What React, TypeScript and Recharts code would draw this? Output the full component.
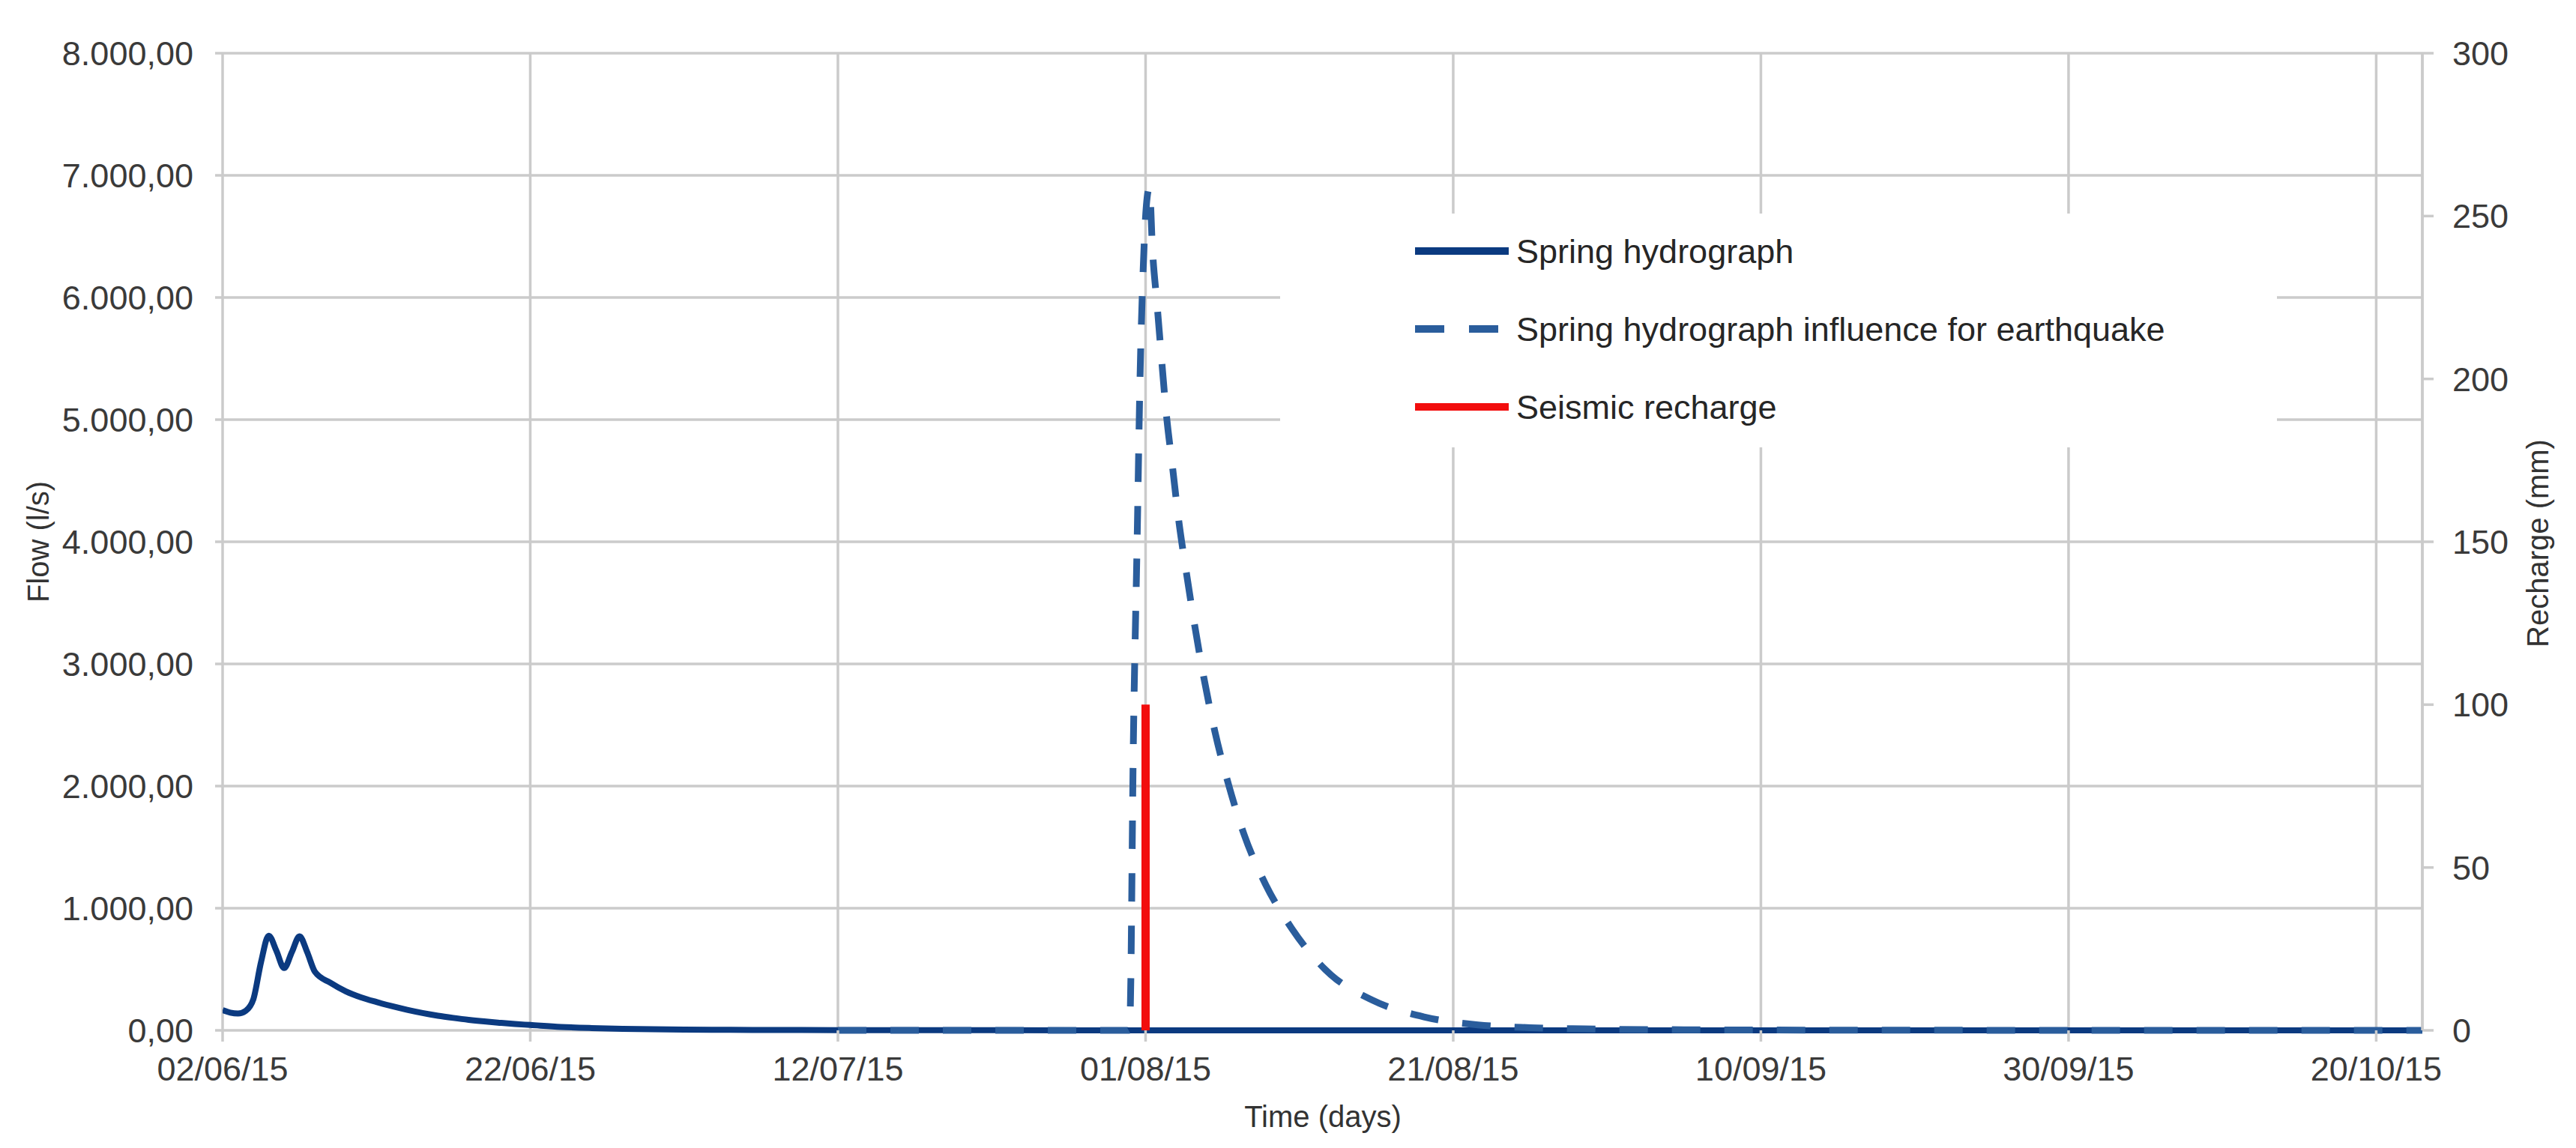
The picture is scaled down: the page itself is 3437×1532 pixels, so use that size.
import { ComposedChart, Line, XAxis, YAxis, CartesianGrid, Legend } from "recharts"

// x axis = days since 02/06/15
const xTicks = [0, 20, 40, 60, 80, 100, 120, 140]
const xTickLabels = ["02/06/15", "22/06/15", "12/07/15", "01/08/15", "21/08/15", "10/09/15", "30/09/15", "20/10/15"]
const flowTicks = [0, 1000, 2000, 3000, 4000, 5000, 6000, 7000, 8000]
const rechargeTicks = [0, 50, 100, 150, 200, 250, 300]

// Spring hydrograph (l/s)
const hydroDays = [0, 0.5, 1, 1.5, 2, 2.5, 3, 3.5, 4, 4.5, 5, 5.5, 6, 7, 8, 9, 10, 11, 12, 13, 14, 15, 16, 17, 18, 19, 20, 22, 24, 26, 28, 30, 33, 36, 40, 50, 60, 80, 100, 120, 143]
const hydroFlow = [165, 145, 138, 160, 255, 560, 775, 650, 510, 640, 770, 640, 480, 390, 320, 270, 232, 198, 168, 142, 120, 102, 86, 73, 62, 52, 44, 28, 19, 13, 9, 6, 4, 3, 2, 1, 0.5, 0.3, 0.2, 0.1, 0.1]

// Spring hydrograph influenced by the earthquake (l/s)
const quakeDays = [40, 58.9, 59.0, 59.2, 59.45, 59.65, 59.85, 60.05, 60.25, 60.45, 60.75, 61.05, 61.35, 61.75, 62.15, 62.65, 63.2, 63.8, 64.5, 65.4, 66.4, 67.8, 69.5, 71.7, 74.7, 78.1, 81.6, 85, 88.6, 95, 110, 143]
const quakeFlow = [0, 0, 150, 2300, 4000, 5400, 6250, 6750, 6900, 6390, 5940, 5480, 5045, 4615, 4180, 3750, 3310, 2880, 2450, 2010, 1605, 1195, 835, 495, 250, 110, 45, 22, 12, 5, 1, 0]

// Seismic recharge (mm)
const rechargeDays = [60, 60]
const rechargeMm = [0, 100]

const hydroData = hydroDays.map((d, i) => ({ day: d, flow: hydroFlow[i] }))
const quakeData = quakeDays.map((d, i) => ({ day: d, flow: quakeFlow[i] }))
const rechargeData = rechargeDays.map((d, i) => ({ day: d, recharge: rechargeMm[i] }))

const NAVY = "#0b3a80"
const DASH_BLUE = "#2a5d9c"
const RED = "#f20d0d"
const GRID = "#cbcbcb"
const FONT = "'Liberation Sans', Arial, sans-serif"

const legendItems = [
  { name: "Spring hydrograph", color: NAVY, dash: "" },
  { name: "Spring hydrograph influence for earthquake", color: DASH_BLUE, dash: "39 33" },
  { name: "Seismic recharge", color: RED, dash: "" },
]

const fmtFlow = (v: number) => {
  if (v >= 1000) return `${Math.floor(v / 1000)}.${String(v % 1000).padStart(3, "0")},00`
  return `${v},00`
}

const fmtDay = (v: number) => xTickLabels[xTicks.indexOf(v)] ?? ""

function LegendBox() {
  return (
    <div style={{ background: "#fff", width: "100%", height: "100%", fontFamily: FONT, position: "relative" }}>
      {legendItems.map((it, i) => (
        <div
          key={it.name}
          style={{ position: "absolute", left: 180, top: 50 + i * 104 - 30, height: 60, display: "flex", alignItems: "center" }}
        >
          <svg width={125} height={14} style={{ display: "block" }}>
            <line x1={0} y1={7} x2={it.dash ? 111 : 125} y2={7} stroke={it.color} strokeWidth={10} strokeDasharray={it.dash || undefined} />
          </svg>
          <span style={{ marginLeft: 10, fontSize: 45, color: "#262626", whiteSpace: "nowrap", lineHeight: 1 }}>{it.name}</span>
        </div>
      ))}
    </div>
  )
}

const titleStyle = {
  position: "absolute" as const,
  fontFamily: FONT,
  fontSize: 40,
  color: "#333",
  whiteSpace: "nowrap" as const,
  lineHeight: 1,
}

const tickLine = { stroke: GRID, strokeWidth: 3.5 }

export default function App() {
  return (
    <div style={{ position: "absolute", left: 0, top: 0, width: 3437, height: 1532, background: "#fff" }}>
      <ComposedChart width={3437} height={1532} margin={{ top: 71, right: 0, bottom: 0, left: 0 }}>
        <CartesianGrid yAxisId="left" stroke={GRID} strokeWidth={3.5} />
        <XAxis
          type="number"
          dataKey="day"
          domain={[0, 143]}
          ticks={xTicks}
          tickFormatter={fmtDay}
          height={157}
          tickSize={15}
          tickMargin={20}
          axisLine={false}
          tickLine={tickLine}
          tick={{ fill: "#3a3a3a", fontSize: 45, fontFamily: FONT }}
          allowDataOverflow
        />
        <YAxis
          yAxisId="left"
          domain={[0, 8000]}
          ticks={flowTicks}
          tickFormatter={fmtFlow}
          width={297}
          tickSize={10}
          tickMargin={29}
          axisLine={false}
          tickLine={tickLine}
          tick={{ fill: "#3a3a3a", fontSize: 45, fontFamily: FONT }}
        />
        <YAxis
          yAxisId="right"
          orientation="right"
          domain={[0, 300]}
          ticks={rechargeTicks}
          width={205}
          tickSize={15}
          tickMargin={25}
          stroke={GRID}
          strokeWidth={3.5}
          tickLine={tickLine}
          tick={{ fill: "#3a3a3a", fontSize: 45, fontFamily: FONT }}
        />
        <Line
          yAxisId="left"
          data={hydroData}
          dataKey="flow"
          type="monotone"
          stroke={NAVY}
          strokeWidth={8}
          dot={false}
          isAnimationActive={false}
        />
        <Line
          yAxisId="left"
          data={quakeData}
          dataKey="flow"
          type="monotone"
          stroke={DASH_BLUE}
          strokeWidth={9}
          strokeDasharray="38 32"
          dot={false}
          isAnimationActive={false}
        />
        <Line
          yAxisId="right"
          data={rechargeData}
          dataKey="recharge"
          type="linear"
          stroke={RED}
          strokeWidth={11}
          dot={false}
          isAnimationActive={false}
        />
        <Legend
          layout="vertical"
          align="center"
          verticalAlign="middle"
          wrapperStyle={{ left: 1708, top: 285, width: 1330, height: 312 }}
          content={() => <LegendBox />}
        />
      </ComposedChart>
      <div style={{ ...titleStyle, left: 51, top: 723, transform: "translate(-50%, -50%) rotate(-90deg)" }}>Flow (l/s)</div>
      <div style={{ ...titleStyle, left: 3386, top: 725, transform: "translate(-50%, -50%) rotate(-90deg)" }}>Recharge (mm)</div>
      <div style={{ ...titleStyle, left: 1765, top: 1490, transform: "translate(-50%, -50%)" }}>Time (days)</div>
    </div>
  )
}
